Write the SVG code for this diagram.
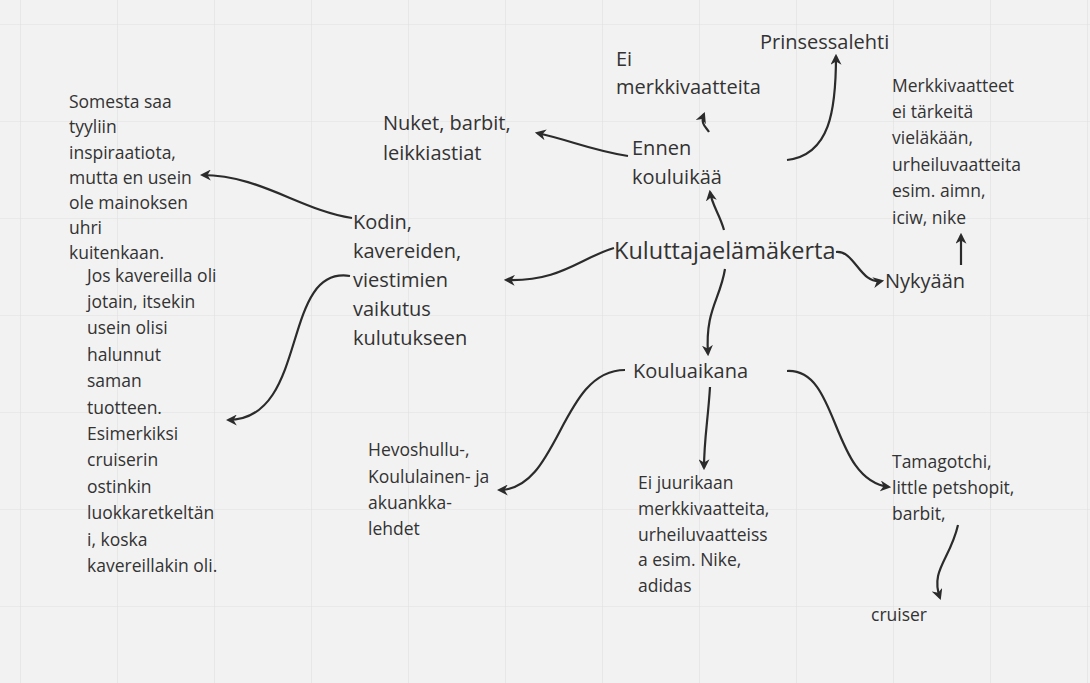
<svg xmlns="http://www.w3.org/2000/svg" width="1090" height="683" viewBox="0 0 1090 683">
<defs>
<pattern id="g" x="20" y="24" width="97" height="97" patternUnits="userSpaceOnUse"><path d="M0 0H97M0 0V97" fill="none" stroke="#e0e0e0" stroke-width="1.2"/></pattern>
<marker id="a" viewBox="0 0 10 10" refX="8" refY="5" markerWidth="5" markerHeight="5" orient="auto-start-reverse" markerUnits="strokeWidth"><path d="M0 0L10 5L0 10L3 5Z" fill="#2b2b2b"/></marker>
<style>
text{font-family:"Open Sans","Noto Sans",sans-serif;fill:#333}
.s{font-size:17.5px}.t{font-size:17.5px}.m{font-size:20px}.l{font-size:23.5px}
.c path{fill:none;stroke:#2b2b2b;stroke-width:2.2;marker-end:url(#a)}
</style>
</defs>
<rect width="1090" height="683" fill="#f2f2f2"/>
<rect width="1090" height="683" fill="url(#g)"/>
<g class="c">
<path d="M724 230C720 215 712 205 710 192"/>
<path d="M628 156C590 150 570 140 537 133"/>
<path d="M709 132C706 127 700 124 704 114"/>
<path d="M787 160C830 155 836 110 836 56"/>
<path d="M614 248C580 258 560 282 506 280"/>
<path d="M836 252C855 250 860 285 882 281"/>
<path d="M961 265V235"/>
<path d="M725 269C720 300 705 310 708 354"/>
<path d="M352 218C300 210 260 175 202 175"/>
<path d="M350 276C280 265 310 420 228 420"/>
<path d="M625 370C560 370 560 490 499 490"/>
<path d="M710 387C708 420 704 440 704 468"/>
<path d="M787 371C840 368 830 480 889 487"/>
<path d="M958 525C950 560 930 570 940 598"/>
</g>
<g id="root"><text class="l" x="614" y="259">Kuluttajaelämäkerta</text></g>
<g id="ennen"><text class="m" x="632" y="155">Ennen</text><text class="m" x="632" y="184">kouluikää</text></g>
<g id="eimerkki"><text class="m" x="616" y="66">Ei</text><text class="m" x="616" y="94">merkkivaatteita</text></g>
<g id="prinsessa"><text class="m" x="760" y="49">Prinsessalehti</text></g>
<g id="nuket"><text class="m" x="383" y="130">Nuket, barbit,</text><text class="m" x="383" y="160">leikkiastiat</text></g>
<g id="nykyaan"><text class="m" x="885" y="288">Nykyään</text></g>
<g id="merkki2"><text class="t" x="892" y="92">Merkkivaatteet</text><text class="t" x="892" y="118">ei tärkeitä</text><text class="t" x="892" y="144">vieläkään,</text><text class="t" x="892" y="171">urheiluvaatteita</text><text class="t" x="892" y="197">esim. aimn,</text><text class="t" x="892" y="224">iciw, nike</text></g>
<g id="kodin"><text class="m" x="353" y="229">Kodin,</text><text class="m" x="353" y="258">kavereiden,</text><text class="m" x="353" y="287">viestimien</text><text class="m" x="353" y="316">vaikutus</text><text class="m" x="353" y="345">kulutukseen</text></g>
<g id="somesta"><text class="s" x="69" y="108">Somesta saa</text><text class="s" x="69" y="133">tyyliin</text><text class="s" x="69" y="159">inspiraatiota,</text><text class="s" x="69" y="184">mutta en usein</text><text class="s" x="69" y="209">ole mainoksen</text><text class="s" x="69" y="234">uhri</text><text class="s" x="69" y="259">kuitenkaan.</text></g>
<g id="jos"><text class="t" x="87" y="282">Jos kavereilla oli</text><text class="t" x="87" y="308">jotain, itsekin</text><text class="t" x="87" y="334">usein olisi</text><text class="t" x="87" y="361">halunnut</text><text class="t" x="87" y="387">saman</text><text class="t" x="87" y="414">tuotteen.</text><text class="t" x="87" y="440">Esimerkiksi</text><text class="t" x="87" y="466">cruiserin</text><text class="t" x="87" y="493">ostinkin</text><text class="t" x="87" y="519">luokkaretkeltän</text><text class="t" x="87" y="546">i, koska</text><text class="t" x="87" y="572">kavereillakin oli.</text></g>
<g id="koulu"><text class="m" x="633" y="378">Kouluaikana</text></g>
<g id="hevos"><text class="t" x="368" y="456">Hevoshullu-,</text><text class="t" x="368" y="483">Koululainen- ja</text><text class="t" x="368" y="509">akuankka-</text><text class="t" x="368" y="535">lehdet</text></g>
<g id="eijuuri"><text class="t" x="638" y="489">Ei juurikaan</text><text class="t" x="638" y="515">merkkivaatteita,</text><text class="t" x="638" y="541">urheiluvaatteiss</text><text class="t" x="638" y="566">a esim. Nike,</text><text class="t" x="638" y="592">adidas</text></g>
<g id="tama"><text class="t" x="892" y="468">Tamagotchi,</text><text class="t" x="892" y="494">little petshopit,</text><text class="t" x="892" y="520">barbit,</text></g>
<g id="cruiser"><text class="t" x="871" y="621">cruiser</text></g>
</svg>
